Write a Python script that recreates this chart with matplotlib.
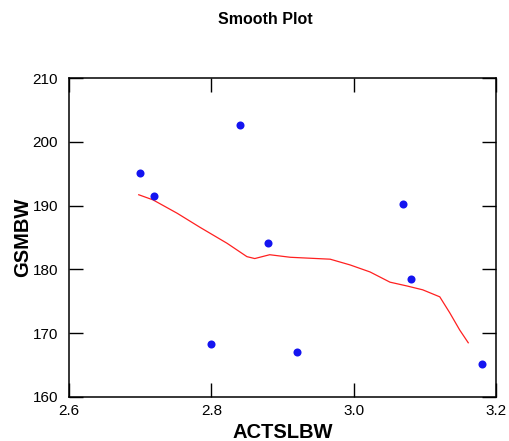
import matplotlib
matplotlib.use("Agg")
import matplotlib.pyplot as plt
import numpy as np

plt.rcParams['font.family'] = ['Liberation Sans', 'DejaVu Sans']

x_pts = [2.70, 2.72, 2.84, 2.80, 2.88, 2.92, 3.07, 3.08, 3.18]
y_pts = [195.1, 191.5, 202.6, 168.3, 184.1, 167.1, 190.3, 178.5, 165.2]

smooth_x = [2.698, 2.718, 2.752, 2.784, 2.822, 2.850, 2.861, 2.882, 2.911, 2.967,
            2.995, 3.023, 3.051, 3.075, 3.097, 3.121, 3.135, 3.149, 3.161]
smooth_y = [191.7, 190.9, 188.8, 186.6, 184.1, 182.0, 181.7, 182.3, 181.9, 181.6,
            180.7, 179.6, 178.0, 177.4, 176.8, 175.7, 173.2, 170.5, 168.5]

xticks = [2.6, 2.8, 3.0, 3.2]
yticks = [160, 170, 180, 190, 200, 210]

fig = plt.figure(figsize=(5.09, 4.41), dpi=100)
ax = fig.add_axes([69/509, 1-397/441, (496-69)/509, (397-78)/441])

ax.plot(smooth_x, smooth_y, color='#ff2020', lw=0.9)
ax.plot(x_pts, y_pts, 'o', color='#1414f0', markersize=5.8, markeredgewidth=0)

ax.set_xlim(2.6, 3.2)
ax.set_ylim(160, 210)
ax.set_xticks(xticks)
ax.set_xticklabels(['2.6', '2.8', '3.0', '3.2'])
ax.set_yticks(yticks)
ax.tick_params(direction='in', length=10, width=1, labelsize=11,
               top=True, right=True)
ax.tick_params(axis='y', pad=8)
ax.tick_params(axis='x', pad=5)
for s in ax.spines.values():
    s.set_linewidth(1.1)

ax.set_xlabel('ACTSLBW', fontsize=14.5, fontweight='bold', labelpad=4)
ax.set_ylabel('GSMBW', fontsize=14.5, fontweight='bold', labelpad=0)
fig.text(265/509, 1-19/441, 'Smooth Plot', ha='center', va='center',
         fontsize=11.5, fontweight='bold')

fig.savefig('out.png', dpi=100)
